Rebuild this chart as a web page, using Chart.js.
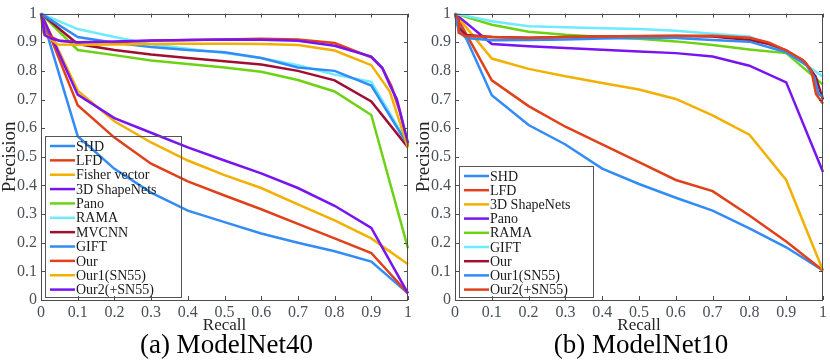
<!DOCTYPE html>
<html>
<head>
<meta charset="utf-8">
<script src="https://cdn.jsdelivr.net/npm/chart.js@4.4.1/dist/chart.umd.min.js"></script>
<style>
  html, body { margin: 0; padding: 0; background: #fff; }
  #wrap { position: relative; width: 830px; height: 363px; overflow: hidden; }
  canvas { position: absolute; top: 0; }
</style>
</head>
<body>
<div id="wrap">
  <canvas id="mn40" width="415" height="363" style="left:0"></canvas>
  <canvas id="mn10" width="415" height="363" style="left:415px"></canvas>
</div>
<script>
// tick labels (both axes, both plots)
const tickValues = [0, 0.1, 0.2, 0.3, 0.4, 0.5, 0.6, 0.7, 0.8, 0.9, 1];
const recallSteps = [0, 0.1, 0.2, 0.3, 0.4, 0.5, 0.6, 0.7, 0.8, 0.9, 1];

// ---- (a) ModelNet40 ----
const labels40 = ["SHD", "LFD", "Fisher vector", "3D ShapeNets", "Pano", "RAMA", "MVCNN", "GIFT", "Our", "Our1(SN55)", "Our2(+SN55)"];
const shd40 = [1, 0.572, 0.458, 0.375, 0.312, 0.272, 0.232, 0.2, 0.17, 0.134, 0.023];
const lfd40 = [1, 0.68, 0.567, 0.476, 0.414, 0.365, 0.317, 0.266, 0.215, 0.164, 0.023];
const fisher40 = [1, 0.731, 0.624, 0.55, 0.487, 0.436, 0.391, 0.334, 0.278, 0.215, 0.125];
const shapenets40 = [1, 0.717, 0.635, 0.584, 0.533, 0.487, 0.442, 0.391, 0.329, 0.252, 0.023];
const pano40 = [1, 0.873, 0.855, 0.836, 0.824, 0.812, 0.797, 0.768, 0.728, 0.646, 0.18];
const rama40 = [1, 0.946, 0.918, 0.893, 0.877, 0.862, 0.845, 0.82, 0.787, 0.762, 0.545];
const mvcnn40 = [1, 0.894, 0.873, 0.857, 0.845, 0.834, 0.822, 0.8, 0.767, 0.693, 0.533];
const gift40 = [1, 0.918, 0.898, 0.883, 0.873, 0.865, 0.845, 0.812, 0.8, 0.749, 0.54];
const ourRecall40 = [0, 0.01, 0.05, 0.1, 0.2, 0.3, 0.4, 0.5, 0.6, 0.7, 0.8, 0.9, 0.93, 0.955, 0.978, 1];
const our40 = [1, 0.93, 0.905, 0.9, 0.9, 0.905, 0.908, 0.91, 0.912, 0.91, 0.897, 0.847, 0.81, 0.746, 0.656, 0.537];
const our1Recall40 = [0, 0.005, 0.045, 0.1, 0.2, 0.3, 0.4, 0.5, 0.6, 0.7, 0.8, 0.9, 0.95, 1];
const our1_40 = [1, 0.935, 0.892, 0.891, 0.892, 0.894, 0.895, 0.895, 0.894, 0.89, 0.871, 0.82, 0.729, 0.532];
const our2Recall40 = [0, 0.01, 0.03, 0.05, 0.1, 0.2, 0.3, 0.4, 0.5, 0.6, 0.7, 0.8, 0.9, 0.93, 0.95, 0.97, 1];
const our2_40 = [1, 0.925, 0.912, 0.905, 0.9, 0.903, 0.906, 0.908, 0.91, 0.909, 0.905, 0.888, 0.85, 0.81, 0.752, 0.7, 0.548];

// ---- (b) ModelNet10 ----
const labels10 = ["SHD", "LFD", "3D ShapeNets", "Pano", "RAMA", "GIFT", "Our", "Our1(SN55)", "Our2(+SN55)"];
const shd10 = [1, 0.715, 0.611, 0.543, 0.459, 0.405, 0.357, 0.312, 0.25, 0.184, 0.103];
const lfd10 = [1, 0.767, 0.677, 0.605, 0.543, 0.481, 0.419, 0.38, 0.295, 0.204, 0.103];
const shapenets10 = [1, 0.843, 0.807, 0.781, 0.758, 0.735, 0.702, 0.645, 0.577, 0.419, 0.103];
const pano10 = [1, 0.894, 0.886, 0.88, 0.874, 0.868, 0.862, 0.85, 0.818, 0.76, 0.447];
const rama10 = [1, 0.961, 0.937, 0.926, 0.918, 0.912, 0.903, 0.89, 0.875, 0.862, 0.752];
const gift10 = [1, 0.973, 0.956, 0.952, 0.949, 0.946, 0.94, 0.93, 0.92, 0.868, 0.78];
const ourRecall10 = [0, 0.01, 0.03, 0.1, 0.2, 0.3, 0.4, 0.5, 0.6, 0.7, 0.8, 0.85, 0.9, 0.95, 0.98, 1];
const our10 = [1, 0.95, 0.925, 0.918, 0.916, 0.918, 0.92, 0.921, 0.922, 0.92, 0.908, 0.895, 0.872, 0.832, 0.78, 0.7];
const our1Recall10 = [0, 0.01, 0.03, 0.1, 0.2, 0.3, 0.4, 0.5, 0.6, 0.7, 0.8, 0.9, 0.955, 0.977, 0.988, 1];
const our1_10 = [1, 0.94, 0.915, 0.907, 0.908, 0.91, 0.913, 0.915, 0.915, 0.908, 0.902, 0.865, 0.82, 0.775, 0.718, 0.71];
const our2Recall10 = [0, 0.01, 0.01, 0.028, 0.1, 0.2, 0.3, 0.4, 0.5, 0.6, 0.7, 0.8, 0.852, 0.901, 0.946, 0.968, 0.981, 1];
const our2_10 = [1, 0.978, 0.933, 0.922, 0.918, 0.915, 0.918, 0.92, 0.922, 0.923, 0.923, 0.916, 0.899, 0.871, 0.837, 0.803, 0.719, 0.685];

const BLUE = "#338cf5", RED = "#e1411a", ORANGE = "#f2b000", PURPLE = "#7814f0",
      GREEN = "#6ed214", CYAN = "#6eebff", DARKRED = "#a00f32";
const FONT = "'Liberation Serif', 'Times New Roman', serif";

function pts(rec, prec) {
  return rec.map((r, i) => ({ x: r, y: prec[i] }));
}

function lines(labels, series, colors) {
  return series.map((s, i) => ({
    label: labels[i],
    data: pts(s[0], s[1]),
    borderColor: colors[i],
    borderWidth: 2.5,
    pointRadius: 0,
    tension: 0,
    fill: false,
    clip: 3,
    order: series.length - i   // later series drawn on top
  }));
}

const frame = {
  id: "frame",
  afterDatasetsDraw(chart, args, o) {
    const { ctx, chartArea: a } = chart;
    const x = chart.scales.x, y = chart.scales.y;
    ctx.save();
    ctx.strokeStyle = "#4d4d4d";
    ctx.lineWidth = 1;
    ctx.beginPath();
    tickValues.forEach(v => {
      const px = Math.round(x.getPixelForValue(v)) + 0.5;
      ctx.moveTo(px, a.bottom); ctx.lineTo(px, a.bottom - 4);
      ctx.moveTo(px, a.top); ctx.lineTo(px, a.top + 4);
      const py = Math.round(y.getPixelForValue(v)) + 0.5;
      ctx.moveTo(a.left, py); ctx.lineTo(a.left + 4, py);
      ctx.moveTo(a.right, py); ctx.lineTo(a.right - 4, py);
    });
    ctx.stroke();
    ctx.strokeRect(Math.round(a.left) + 0.5, Math.round(a.top) + 0.5,
                   Math.round(a.right - a.left) - 1, Math.round(a.bottom - a.top));

    // legend box, transparent like the original
    const L = o.legend;
    ctx.strokeStyle = "#555";
    ctx.strokeRect(L.x + 0.5, L.y + 0.5, L.w, L.h);
    ctx.font = "14px " + FONT;
    ctx.textBaseline = "middle";
    ctx.textAlign = "left";
    chart.data.datasets.forEach((d, i) => {
      const ly = L.y + 10 + i * L.step;
      ctx.strokeStyle = d.borderColor;
      ctx.lineWidth = 2.5;
      ctx.beginPath();
      ctx.moveTo(L.x + 5, ly); ctx.lineTo(L.x + 30, ly);
      ctx.stroke();
      ctx.fillStyle = "#1a1a1a";
      ctx.fillText(d.label, L.x + 31, ly + 1);
    });

    // axis titles and caption
    const cx = (a.left + a.right) / 2;
    ctx.fillStyle = "#262626";
    ctx.textAlign = "center";
    ctx.textBaseline = "alphabetic";
    ctx.font = "17px " + FONT;
    ctx.fillText("Recall", cx, 330);
    ctx.save();
    ctx.translate(a.left - 26, (a.top + a.bottom) / 2);
    ctx.rotate(-Math.PI / 2);
    ctx.font = "19px " + FONT;
    ctx.fillText("Precision", 0, 0);
    ctx.restore();
    ctx.fillStyle = "#000";
    ctx.font = "27px " + FONT;
    ctx.fillText(o.caption, cx + 2, 352.5);
    ctx.restore();
  }
};

function axis(width) {
  return {
    type: "linear",
    min: 0,
    max: 1,
    afterBuildTicks: s => { s.ticks = tickValues.map(v => ({ value: v })); },
    afterFit: s => { if (width.w) s.width = width.w; else s.height = width.h; },
    grid: { display: false, drawTicks: false },
    border: { display: false },
    ticks: {
      autoSkip: false,
      maxRotation: 0,
      padding: width.w ? 4 : 3,
      color: "#4a5058",
      font: { family: FONT, size: 16 },
      callback: v => String(Number(v.toFixed(1)))
    }
  };
}

function makeChart(id, datasets, yWidth, legend, caption) {
  return new Chart(document.getElementById(id), {
    type: "line",
    data: { datasets },
    options: {
      responsive: false,
      animation: false,
      devicePixelRatio: 1,
      events: [],
      layout: { padding: { top: 5, right: 1, left: 0, bottom: 0 } },
      scales: { x: axis({ h: 63 }), y: axis({ w: yWidth }) },
      plugins: {
        legend: { display: false },
        tooltip: { enabled: false },
        frame: { legend, caption }
      }
    },
    plugins: [frame]
  });
}

makeChart("mn40", lines(labels40, [
  [recallSteps, shd40], [recallSteps, lfd40], [recallSteps, fisher40], [recallSteps, shapenets40],
  [recallSteps, pano40], [recallSteps, rama40], [recallSteps, mvcnn40], [recallSteps, gift40],
  [ourRecall40, our40], [our1Recall40, our1_40], [our2Recall40, our2_40]
], [BLUE, RED, ORANGE, PURPLE, GREEN, CYAN, DARKRED, BLUE, RED, ORANGE, PURPLE]),
  41, { x: 45, y: 136, w: 136, h: 161, step: 14.36 }, "(a) ModelNet40");

makeChart("mn10", lines(labels10, [
  [recallSteps, shd10], [recallSteps, lfd10], [recallSteps, shapenets10], [recallSteps, pano10],
  [recallSteps, rama10], [recallSteps, gift10], [ourRecall10, our10], [our1Recall10, our1_10],
  [our2Recall10, our2_10]
], [BLUE, RED, ORANGE, PURPLE, GREEN, CYAN, DARKRED, BLUE, RED]),
  40, { x: 44, y: 166, w: 134, h: 131, step: 14.2 }, "(b) ModelNet10");
</script>
</body>
</html>
